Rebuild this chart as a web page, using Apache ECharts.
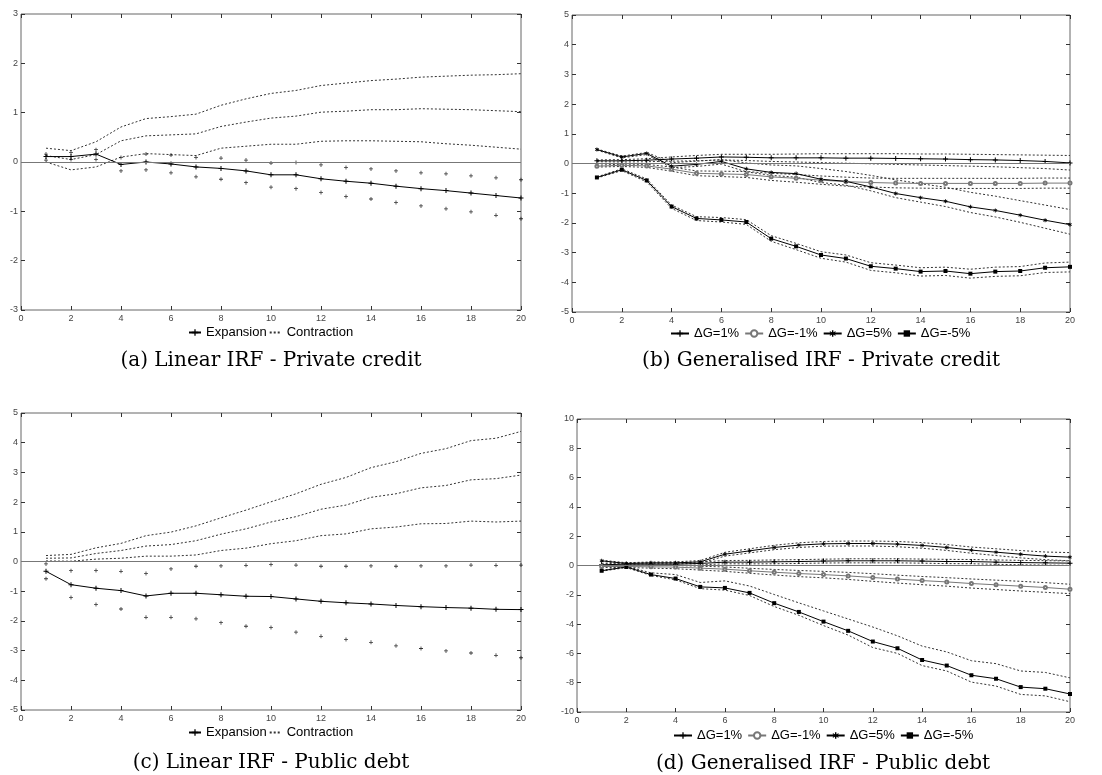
<!DOCTYPE html>
<html>
<head>
<meta charset="utf-8">
<script src="https://cdn.jsdelivr.net/npm/echarts@6/dist/echarts.min.js"></script>
<style>
  html, body { margin: 0; padding: 0; background: #fff; }
  #main { width: 1102px; height: 775px; }
</style>
</head>
<body>
<div id="main"></div>
<script>
// horizons
const steps = [1, 2, 3, 4, 5, 6, 7, 8, 9, 10, 11, 12, 13, 14, 15, 16, 17, 18, 19, 20];

// (a) Linear IRF - Private credit
const expCredit   = [0.11, 0.11, 0.16, -0.05, 0.00, -0.04, -0.10, -0.13, -0.18, -0.26, -0.26, -0.34, -0.39, -0.43, -0.49, -0.54, -0.58, -0.63, -0.68, -0.73];
const expCreditHi = [0.16, 0.19, 0.25, 0.09, 0.16, 0.14, 0.09, 0.08, 0.04, -0.02, -0.01, -0.06, -0.11, -0.14, -0.18, -0.22, -0.24, -0.28, -0.32, -0.36];
const expCreditLo = [0.04, 0.05, 0.05, -0.18, -0.16, -0.22, -0.30, -0.35, -0.42, -0.51, -0.54, -0.62, -0.70, -0.75, -0.82, -0.89, -0.95, -1.01, -1.08, -1.15];
const conCredit   = [0.13, 0.05, 0.15, 0.43, 0.53, 0.55, 0.57, 0.72, 0.81, 0.89, 0.93, 1.01, 1.03, 1.06, 1.06, 1.08, 1.07, 1.06, 1.04, 1.02];
const conCreditHi = [0.28, 0.23, 0.41, 0.71, 0.88, 0.92, 0.97, 1.15, 1.28, 1.39, 1.45, 1.55, 1.60, 1.65, 1.68, 1.72, 1.74, 1.76, 1.77, 1.79];
const conCreditLo = [0.00, -0.16, -0.10, 0.10, 0.17, 0.15, 0.13, 0.28, 0.32, 0.36, 0.36, 0.42, 0.43, 0.43, 0.42, 0.41, 0.37, 0.34, 0.30, 0.26];

// (c) Linear IRF - Public debt
const expDebt   = [-0.33, -0.78, -0.90, -0.98, -1.16, -1.07, -1.07, -1.12, -1.17, -1.18, -1.26, -1.34, -1.39, -1.43, -1.48, -1.52, -1.55, -1.57, -1.61, -1.62];
const expDebtHi = [-0.08, -0.31, -0.30, -0.33, -0.40, -0.25, -0.16, -0.15, -0.13, -0.10, -0.12, -0.16, -0.16, -0.15, -0.16, -0.15, -0.15, -0.12, -0.13, -0.12];
const expDebtLo = [-0.58, -1.21, -1.45, -1.60, -1.88, -1.88, -1.93, -2.06, -2.18, -2.22, -2.38, -2.52, -2.63, -2.72, -2.84, -2.93, -3.01, -3.08, -3.16, -3.24];
const conDebt   = [0.11, 0.12, 0.27, 0.37, 0.52, 0.57, 0.70, 0.92, 1.10, 1.33, 1.51, 1.76, 1.90, 2.16, 2.28, 2.48, 2.56, 2.75, 2.79, 2.91];
const conDebtHi = [0.20, 0.24, 0.46, 0.61, 0.87, 0.99, 1.20, 1.47, 1.73, 2.01, 2.28, 2.60, 2.83, 3.16, 3.36, 3.64, 3.80, 4.07, 4.15, 4.38];
const conDebtLo = [0.02, 0.01, 0.08, 0.11, 0.18, 0.18, 0.22, 0.37, 0.45, 0.60, 0.70, 0.87, 0.93, 1.10, 1.16, 1.27, 1.28, 1.36, 1.33, 1.36];

// (b) Generalised IRF - Private credit
const gCreditP1   = [0.09, 0.09, 0.11, 0.15, 0.18, 0.22, 0.21, 0.19, 0.19, 0.19, 0.18, 0.18, 0.17, 0.16, 0.15, 0.13, 0.12, 0.10, 0.07, 0.02];
const gCreditP1Hi = [0.12, 0.13, 0.16, 0.22, 0.27, 0.31, 0.31, 0.31, 0.32, 0.33, 0.33, 0.33, 0.33, 0.32, 0.32, 0.31, 0.30, 0.29, 0.28, 0.27];
const gCreditP1Lo = [0.06, 0.05, 0.06, 0.08, 0.09, 0.12, 0.10, 0.07, 0.05, 0.03, 0.01, -0.01, -0.03, -0.05, -0.07, -0.09, -0.11, -0.14, -0.17, -0.22];
const gCreditM1   = [-0.09, -0.06, -0.08, -0.19, -0.33, -0.35, -0.37, -0.45, -0.50, -0.56, -0.61, -0.64, -0.66, -0.67, -0.67, -0.67, -0.67, -0.67, -0.66, -0.66];
const gCreditM1Hi = [-0.06, -0.02, -0.03, -0.12, -0.25, -0.26, -0.27, -0.33, -0.37, -0.42, -0.46, -0.49, -0.50, -0.50, -0.50, -0.50, -0.50, -0.50, -0.49, -0.49];
const gCreditM1Lo = [-0.12, -0.10, -0.13, -0.26, -0.41, -0.44, -0.47, -0.57, -0.63, -0.70, -0.76, -0.79, -0.82, -0.83, -0.84, -0.84, -0.84, -0.84, -0.83, -0.83];
const gCreditP5   = [0.47, 0.22, 0.34, -0.09, -0.03, 0.07, -0.18, -0.30, -0.34, -0.53, -0.60, -0.79, -1.01, -1.15, -1.27, -1.46, -1.58, -1.74, -1.91, -2.06];
const gCreditP5Hi = [0.49, 0.25, 0.37, 0.03, 0.08, 0.13, 0.02, -0.05, -0.08, -0.17, -0.27, -0.40, -0.55, -0.68, -0.80, -0.97, -1.10, -1.25, -1.40, -1.55];
const gCreditP5Lo = [0.45, 0.19, 0.30, -0.14, -0.10, -0.02, -0.28, -0.40, -0.46, -0.64, -0.73, -0.92, -1.15, -1.30, -1.45, -1.65, -1.80, -1.98, -2.18, -2.38];
const gCreditM5   = [-0.47, -0.21, -0.57, -1.45, -1.85, -1.90, -1.97, -2.53, -2.79, -3.08, -3.20, -3.46, -3.54, -3.64, -3.62, -3.71, -3.64, -3.62, -3.51, -3.48];
const gCreditM5Hi = [-0.45, -0.18, -0.52, -1.40, -1.79, -1.82, -1.89, -2.43, -2.69, -2.97, -3.08, -3.34, -3.42, -3.51, -3.49, -3.56, -3.49, -3.47, -3.35, -3.32];
const gCreditM5Lo = [-0.49, -0.24, -0.62, -1.51, -1.92, -1.97, -2.05, -2.62, -2.90, -3.19, -3.32, -3.60, -3.68, -3.79, -3.77, -3.86, -3.80, -3.78, -3.67, -3.65];

// (d) Generalised IRF - Public debt
const gDebtP1   = [0.05, 0.09, 0.09, 0.09, 0.14, 0.23, 0.23, 0.25, 0.27, 0.30, 0.32, 0.32, 0.32, 0.30, 0.27, 0.27, 0.23, 0.20, 0.18, 0.16];
const gDebtP1Hi = [0.12, 0.17, 0.18, 0.19, 0.24, 0.34, 0.35, 0.38, 0.40, 0.43, 0.46, 0.46, 0.46, 0.44, 0.42, 0.41, 0.38, 0.35, 0.33, 0.31];
const gDebtP1Lo = [-0.02, 0.01, 0.00, -0.01, 0.04, 0.12, 0.11, 0.12, 0.14, 0.17, 0.18, 0.18, 0.18, 0.16, 0.13, 0.12, 0.08, 0.05, 0.03, 0.01];
const gDebtM1   = [-0.07, -0.07, -0.09, -0.11, -0.18, -0.25, -0.36, -0.46, -0.55, -0.62, -0.71, -0.82, -0.93, -1.03, -1.12, -1.23, -1.32, -1.41, -1.50, -1.62];
const gDebtM1Hi = [-0.01, 0.00, 0.00, 0.00, -0.05, -0.10, -0.19, -0.27, -0.34, -0.40, -0.47, -0.56, -0.66, -0.75, -0.83, -0.92, -1.00, -1.08, -1.17, -1.28];
const gDebtM1Lo = [-0.13, -0.14, -0.18, -0.22, -0.31, -0.40, -0.53, -0.65, -0.76, -0.84, -0.95, -1.08, -1.20, -1.31, -1.41, -1.54, -1.64, -1.74, -1.83, -1.92];
const gDebtP5   = [0.32, 0.14, 0.18, 0.18, 0.25, 0.77, 1.00, 1.23, 1.39, 1.48, 1.50, 1.50, 1.46, 1.37, 1.23, 1.05, 0.91, 0.77, 0.64, 0.57];
const gDebtP5Hi = [0.36, 0.19, 0.24, 0.25, 0.34, 0.90, 1.14, 1.38, 1.55, 1.64, 1.67, 1.67, 1.64, 1.56, 1.43, 1.26, 1.14, 1.02, 0.92, 0.88];
const gDebtP5Lo = [0.28, 0.09, 0.12, 0.11, 0.16, 0.64, 0.86, 1.08, 1.23, 1.32, 1.33, 1.33, 1.28, 1.18, 1.03, 0.84, 0.68, 0.52, 0.40, 0.32];
const gDebtM5   = [-0.36, -0.10, -0.62, -0.89, -1.46, -1.53, -1.87, -2.57, -3.17, -3.83, -4.46, -5.19, -5.65, -6.45, -6.83, -7.49, -7.73, -8.30, -8.41, -8.77];
const gDebtM5Hi = [-0.33, -0.06, -0.50, -0.62, -1.16, -1.05, -1.40, -1.98, -2.55, -3.10, -3.65, -4.20, -4.80, -5.50, -5.90, -6.50, -6.70, -7.20, -7.30, -7.67];
const gDebtM5Lo = [-0.39, -0.14, -0.68, -0.98, -1.58, -1.68, -2.05, -2.80, -3.40, -4.10, -4.75, -5.60, -6.00, -6.83, -7.20, -7.96, -8.23, -8.80, -8.90, -9.30];

const shockNames = ['ΔG=1%', 'ΔG=-1%', 'ΔG=5%', 'ΔG=-5%'];
const captions = ['(a) Linear IRF - Private credit', '(b) Generalised IRF - Private credit',
                  '(c) Linear IRF - Public debt', '(d) Generalised IRF - Public debt'];

// marker shapes
const PLUS = 'path://M4,0H6V4H10V6H6V10H4V6H0V4H4Z';
const STAR = 'path://M4,0H6V3.3L8.6,1.4L9.6,2.8L6.8,5L9.6,7.2L8.6,8.6L6,6.7V10H4V6.7L1.4,8.6L0.4,7.2L3.2,5L0.4,2.8L1.4,1.4L4,3.3Z';

const pts = arr => arr.map((v, i) => [steps[i], v]);

function centre(name, g, arr, symbol, size, color) {
  return {
    name: name, type: 'line', xAxisIndex: 2 * g, yAxisIndex: 2 * g,
    data: pts(arr), symbol: symbol, symbolSize: size, showSymbol: true,
    lineStyle: { color: color, width: 1 },
    itemStyle: { color: color, borderWidth: 0 }, z: 3
  };
}
function band(name, g, arr) {
  return {
    name: name, type: 'line', xAxisIndex: 2 * g, yAxisIndex: 2 * g,
    data: pts(arr), symbol: 'none',
    lineStyle: { color: '#333', width: 1, type: [2, 2] },
    itemStyle: { color: '#333' }, z: 2
  };
}
function dots(name, g, arr) {
  return {
    name: name, type: 'scatter', xAxisIndex: 2 * g, yAxisIndex: 2 * g,
    data: pts(arr), symbol: PLUS, symbolSize: 4,
    itemStyle: { color: '#000' }, z: 3
  };
}
function zeroLine(g) {
  return {
    type: 'line', xAxisIndex: 2 * g, yAxisIndex: 2 * g, data: [], symbol: 'none',
    markLine: {
      silent: true, symbol: 'none', label: { show: false }, animation: false,
      lineStyle: { color: '#777', type: 'solid', width: 1 },
      data: [{ yAxis: 0 }]
    }
  };
}

// grid boxes (px)
const grids = [
  { left: 21, top: 14, width: 500, height: 296 },
  { left: 572, top: 15, width: 498, height: 297 },
  { left: 21, top: 413, width: 500, height: 297 },
  { left: 577, top: 419, width: 493, height: 293 }
];
const yRanges = [[-3, 3, 1], [-5, 5, 1], [-5, 5, 1], [-10, 10, 2]];

const tickFont = { fontSize: 9, color: '#444', fontFamily: 'Liberation Sans' };
const xAxes = [], yAxes = [];
grids.forEach((gr, g) => {
  ['bottom', 'top'].forEach(pos => {
    xAxes.push({
      gridIndex: g, type: 'value', min: 0, max: 20, interval: 2, position: pos,
      axisLine: { show: false, onZero: false },
      axisTick: { show: true, inside: true, length: 4, lineStyle: { color: '#333' } },
      axisLabel: Object.assign({ show: pos === 'bottom', margin: 4 }, tickFont),
      splitLine: { show: false }
    });
  });
  ['left', 'right'].forEach(pos => {
    yAxes.push({
      gridIndex: g, type: 'value', min: yRanges[g][0], max: yRanges[g][1], interval: yRanges[g][2], position: pos,
      axisLine: { show: false, onZero: false },
      axisTick: { show: true, inside: true, length: 4, lineStyle: { color: '#333' } },
      axisLabel: Object.assign({ show: pos === 'left', margin: 3 }, tickFont),
      splitLine: { show: false }
    });
  });
});

let series = [];
// linear panels
[[0, expCredit, expCreditHi, expCreditLo, conCredit, conCreditHi, conCreditLo],
 [2, expDebt, expDebtHi, expDebtLo, conDebt, conDebtHi, conDebtLo]].forEach(p => {
  const g = p[0];
  series.push(zeroLine(g));
  series.push(band('Contraction', g, p[4]), band('Contraction hi', g, p[5]), band('Contraction lo', g, p[6]));
  series.push(dots('Expansion hi', g, p[2]), dots('Expansion lo', g, p[3]));
  series.push(centre('Expansion', g, p[1], PLUS, 5, '#000'));
});
// generalised panels
const shockStyle = [[PLUS, 5, '#000'], ['emptyCircle', 3, '#777'], [STAR, 4, '#000'], ['rect', 4, '#000']];
[[1, [gCreditP1, gCreditP1Hi, gCreditP1Lo], [gCreditM1, gCreditM1Hi, gCreditM1Lo], [gCreditP5, gCreditP5Hi, gCreditP5Lo], [gCreditM5, gCreditM5Hi, gCreditM5Lo]],
 [3, [gDebtP1, gDebtP1Hi, gDebtP1Lo], [gDebtM1, gDebtM1Hi, gDebtM1Lo], [gDebtP5, gDebtP5Hi, gDebtP5Lo], [gDebtM5, gDebtM5Hi, gDebtM5Lo]]].forEach(p => {
  const g = p[0];
  series.push(zeroLine(g));
  for (let k = 0; k < 4; k++) {
    const s = p[k + 1];
    series.push(band(shockNames[k] + ' hi', g, s[1]), band(shockNames[k] + ' lo', g, s[2]));
    series.push(centre(shockNames[k], g, s[0], shockStyle[k][0], shockStyle[k][1], shockStyle[k][2]));
  }
});

const legendBase = {
  orient: 'horizontal', padding: 0, itemWidth: 12, itemHeight: 8, itemGap: 2,
  selectedMode: false,
  textStyle: { fontSize: 13, color: '#000', fontFamily: 'Liberation Sans' }
};
const linearItems = ['Expansion', { name: 'Contraction', itemStyle: { opacity: 0 } }];
const legends = [
  Object.assign({}, legendBase, { left: 188, top: 326, data: linearItems }),
  Object.assign({}, legendBase, { left: 670, top: 327, itemWidth: 18, itemGap: 5, data: shockNames }),
  Object.assign({}, legendBase, { left: 188, top: 726, data: linearItems }),
  Object.assign({}, legendBase, { left: 673, top: 729, itemWidth: 18, itemGap: 5, data: shockNames })
];

const capPos = [[271, 361], [821, 361], [271, 763], [823, 764]];
const graphic = captions.map((c, i) => ({
  type: 'text', x: capPos[i][0], y: capPos[i][1], silent: true,
  style: { text: c, align: 'center', verticalAlign: 'middle', fill: '#000', font: '20px "DejaVu Serif"' }
}));

const chart = echarts.init(document.getElementById('main'));
chart.setOption({
  animation: false,
  backgroundColor: '#fff',
  grid: grids.map(gr => Object.assign({ show: true, borderColor: '#666', borderWidth: 1, containLabel: false }, gr)),
  xAxis: xAxes,
  yAxis: yAxes,
  legend: legends,
  graphic: graphic,
  series: series
});
</script>
</body>
</html>
